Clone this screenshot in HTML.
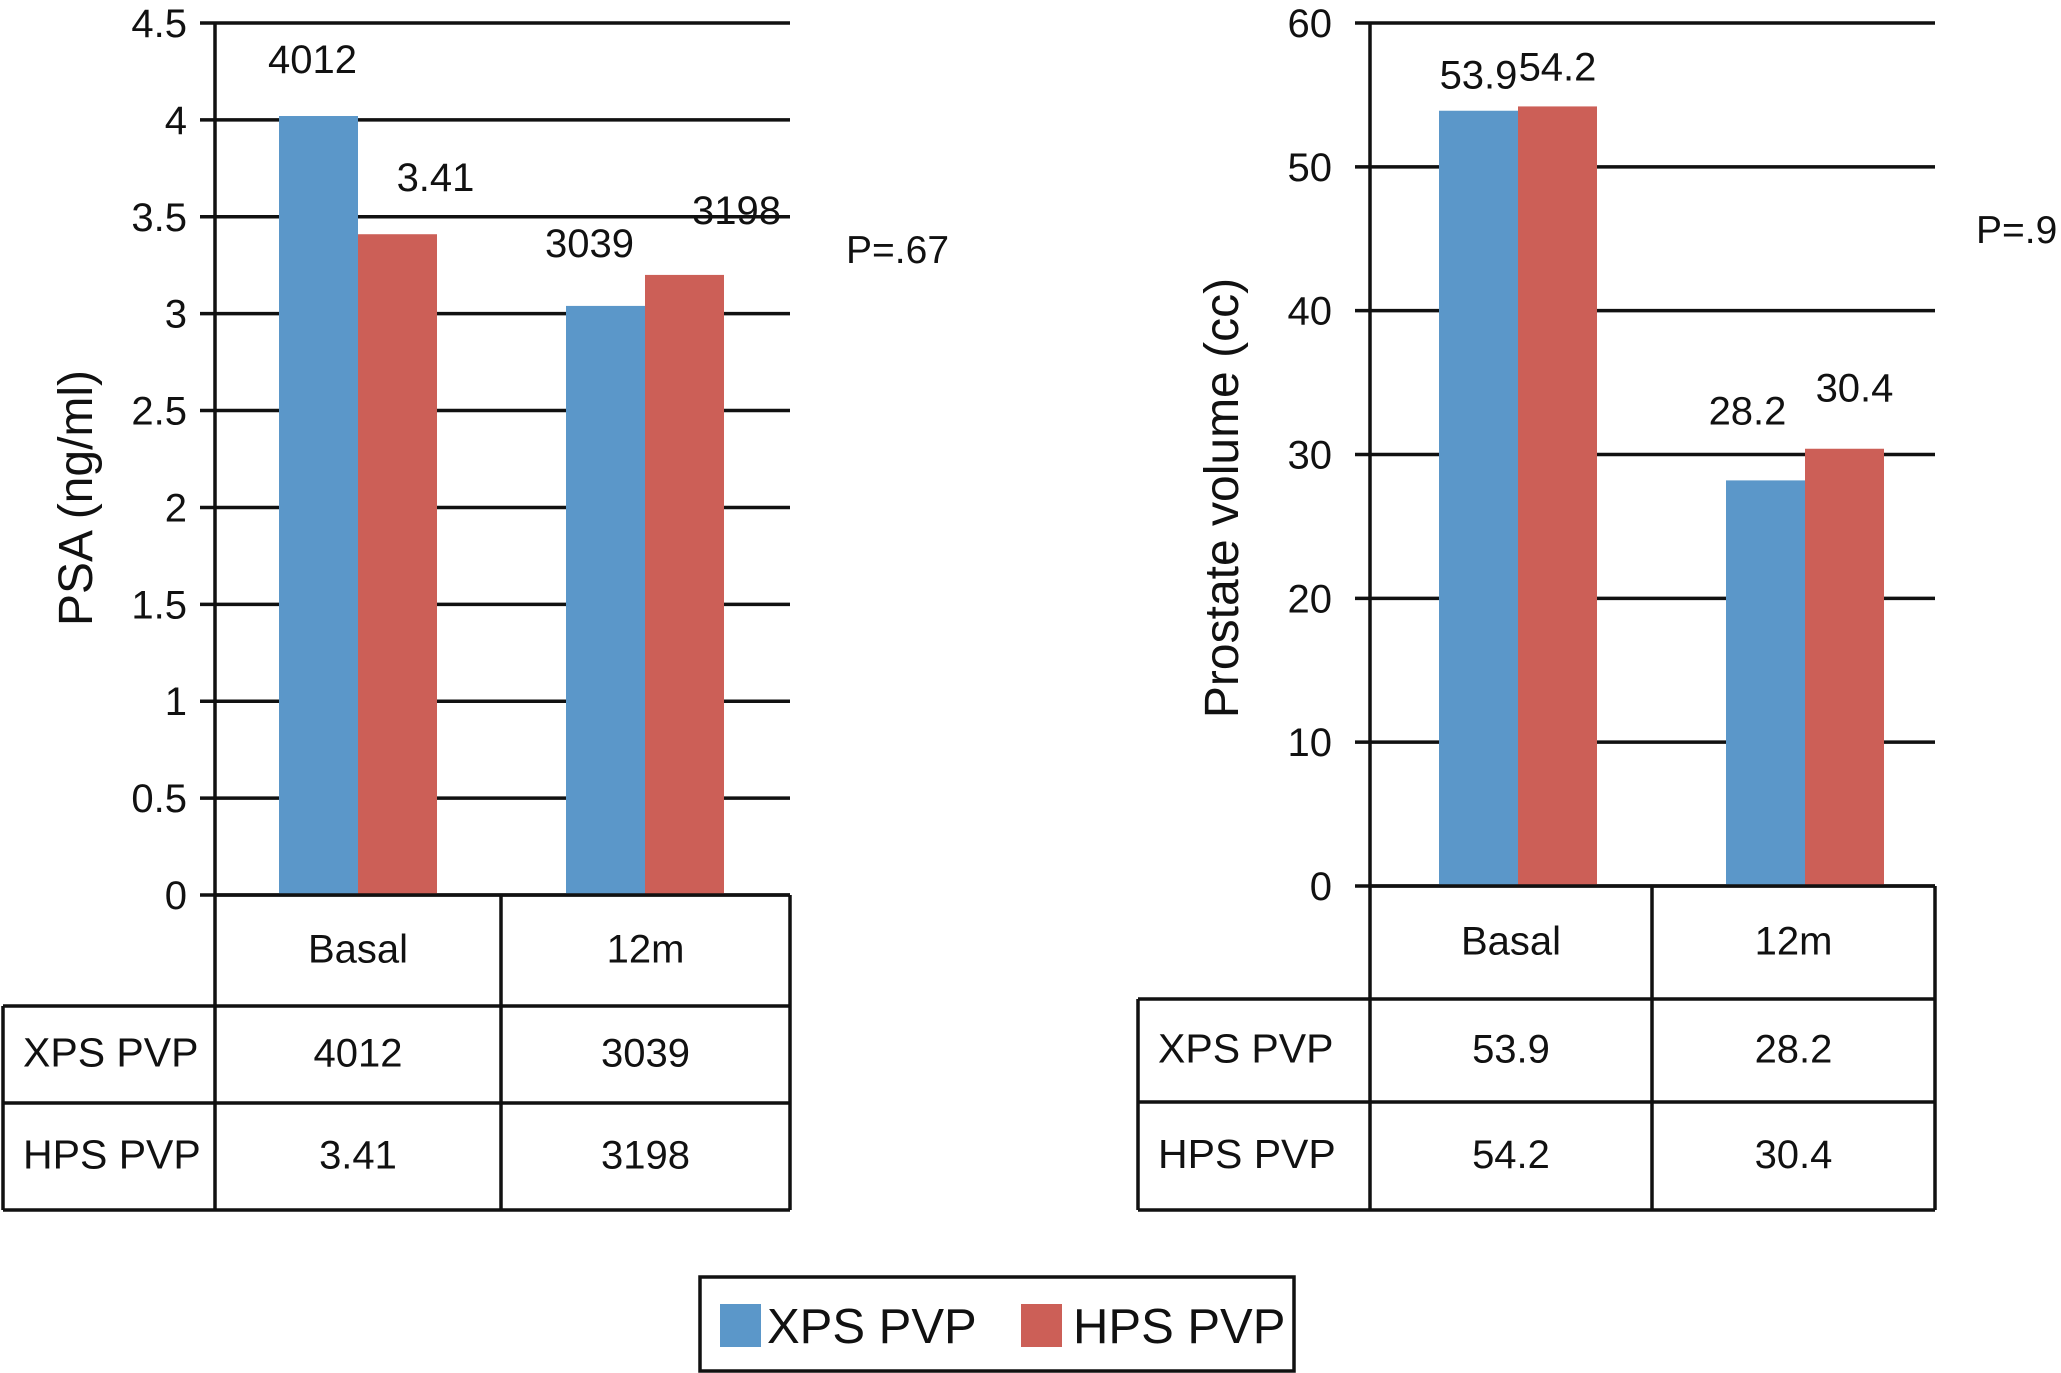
<!DOCTYPE html>
<html><head><meta charset="utf-8"><style>
html,body{margin:0;padding:0;background:#fff;}
svg{display:block;font-family:"Liberation Sans",sans-serif;}
</style></head><body>
<svg id="root" width="2061" height="1373" viewBox="0 0 2061 1373"></svg>
<script>
const categories = ["Basal", "12m"];
const seriesNames = ["XPS PVP", "HPS PVP"];
const psaXps = [4.02, 3.04];
const psaHps = [3.41, 3.20];
const psaXpsLabels = ["4012", "3039"];
const psaHpsLabels = ["3.41", "3198"];
const psaTicks = [0, 0.5, 1, 1.5, 2, 2.5, 3, 3.5, 4, 4.5];
const psaTickLabels = ["0", "0.5", "1", "1.5", "2", "2.5", "3", "3.5", "4", "4.5"];
const volXps = [53.9, 28.2];
const volHps = [54.2, 30.4];
const volXpsLabels = ["53.9", "28.2"];
const volHpsLabels = ["54.2", "30.4"];
const volTicks = [0, 10, 20, 30, 40, 50, 60];
const volTickLabels = ["0", "10", "20", "30", "40", "50", "60"];

const NS = "http://www.w3.org/2000/svg";
const root = document.getElementById("root");
const BLUE = "#5b97c9", RED = "#cc5f57";
function mk(tag, attrs, parent, text) {
  const e = document.createElementNS(NS, tag);
  for (const k in attrs) e.setAttribute(k, attrs[k]);
  if (text !== undefined) e.textContent = text;
  (parent || root).appendChild(e);
  return e;
}

function drawChart(cfg) {
  const g = mk("g", {});
  
  
  const yS = v => cfg.y0 - (v - cfg.min) / (cfg.max - cfg.min) * (cfg.y0 - cfg.yTop);
  const barW = cfg.barW;
  const barX = (i, s) => cfg.centers[i] - barW + s * barW;
  cfg.ticks.forEach((t, i) => {
    const y = yS(t);
    const l = mk("line", {x1: cfg.axisX - 15, x2: cfg.xRight, y1: y, y2: y, stroke: "#111", "stroke-width": 3.5}, g);
    
    
    const tl = mk("text", {x: cfg.tickRight, y: y + 14, "font-size": cfg.tickFont, "text-anchor": "end", fill: "#111"}, g, cfg.tickLabels[i]);
    
    
  });
  const sets = [[cfg.xps, BLUE, cfg.xpsLabels], [cfg.hps, RED, cfg.hpsLabels]];
  sets.forEach((set, s) => {
    set[0].forEach((v, i) => {
      const x = barX(i, s), y = yS(v);
      const r = mk("rect", {x: x, y: y, width: barW, height: cfg.y0 - y, fill: set[1]}, g);
      
      
      const off = cfg.labelOff[s][i];
      const t = mk("text", {x: x + barW / 2 + cfg.labelDx[s][i], y: y - off, "font-size": 40, "text-anchor": "middle", fill: "#111"}, g, set[2][i]);
      
      
    });
  });
  const [r0, r1, r2, r3] = cfg.rows;
  const ax = mk("line", {x1: cfg.axisX, x2: cfg.axisX, y1: cfg.yTop, y2: r3, stroke: "#111", "stroke-width": 3.5}, g);
  
  
  const yt = mk("text", {x: cfg.titleX, y: cfg.titleY, "font-size": 48, "text-anchor": "middle", fill: "#111", transform: "rotate(-90 " + cfg.titleX + " " + cfg.titleY + ")"}, g, cfg.title);
  
  
  const tg = mk("g", {stroke: "#111", "stroke-width": 3.5, fill: "none"}, g);
  
  
  mk("line", {x1: cfg.axisX, x2: cfg.xRight, y1: r0, y2: r0}, tg);
  mk("line", {x1: cfg.tableLeft, x2: cfg.xRight, y1: r1, y2: r1}, tg);
  mk("line", {x1: cfg.tableLeft, x2: cfg.xRight, y1: r2, y2: r2}, tg);
  mk("line", {x1: cfg.tableLeft, x2: cfg.xRight, y1: r3, y2: r3}, tg);
  mk("line", {x1: cfg.tableLeft, x2: cfg.tableLeft, y1: r1, y2: r3}, tg);
  mk("line", {x1: cfg.midX, x2: cfg.midX, y1: r0, y2: r3}, tg);
  mk("line", {x1: cfg.xRight, x2: cfg.xRight, y1: r0, y2: r3}, tg);
  const colC = [(cfg.axisX + cfg.midX) / 2, (cfg.midX + cfg.xRight) / 2];
  const b0 = (r0 + r1) / 2 + 12, b1 = (r1 + r2) / 2 + 12, b2 = (r2 + r3) / 2 + 12;
  categories.forEach((c, i) => {
    const t = mk("text", {x: colC[i], y: b0, "font-size": 40, "text-anchor": "middle", fill: "#111"}, g, c);
    
    
    const a = mk("text", {x: colC[i], y: b1, "font-size": 40, "text-anchor": "middle", fill: "#111"}, g, cfg.xpsLabels[i]);
    
    
    const b = mk("text", {x: colC[i], y: b2, "font-size": 40, "text-anchor": "middle", fill: "#111"}, g, cfg.hpsLabels[i]);
    
    
  });
  seriesNames.forEach((n, s) => {
    const t = mk("text", {x: cfg.tableLeft + 20, y: (s ? b2 : b1), "font-size": 41, fill: "#111"}, g, n);
    
    
  });
  const p = mk("text", {x: cfg.pX, y: cfg.pY, "font-size": 39, fill: "#111"}, g, cfg.pText);
  
  
}

drawChart({name: "psa-chart", min: 0, max: 4.5, y0: 895, yTop: 23, axisX: 215, xRight: 790, barW: 79,
  centers: [358, 645],
  ticks: psaTicks, tickLabels: psaTickLabels, tickRight: 187, tickFont: 40,
  xps: psaXps, hps: psaHps, xpsLabels: psaXpsLabels, hpsLabels: psaHpsLabels,
  labelOff: [[43, 49], [43, 51]], labelDx: [[-6, -16], [38, 52]],
  title: "PSA (ng/ml)", titleX: 92, titleY: 498,
  rows: [895, 1006, 1103, 1210], tableLeft: 3, midX: 501, pX: 846, pY: 263, pText: "P=.67"});

drawChart({name: "volume-chart", min: 0, max: 60, y0: 886, yTop: 23, axisX: 1370, xRight: 1935, barW: 79,
  centers: [1518, 1805],
  ticks: volTicks, tickLabels: volTickLabels, tickRight: 1332, tickFont: 40,
  xps: volXps, hps: volHps, xpsLabels: volXpsLabels, hpsLabels: volHpsLabels,
  labelOff: [[22, 56], [26, 47]], labelDx: [[0, -18], [0, 10]],
  title: "Prostate volume (cc)", titleX: 1238, titleY: 498,
  rows: [886, 999, 1102, 1210], tableLeft: 1138, midX: 1652, pX: 1976, pY: 243, pText: "P=.9"});

const lg = mk("g", {});


mk("rect", {x: 700, y: 1277, width: 594, height: 94, fill: "none", stroke: "#111", "stroke-width": 3.5}, lg);
[[720, BLUE, 767, "XPS PVP"], [1021, RED, 1073, "HPS PVP"]].forEach(e => {
  const it = mk("g", {}, lg);
  
  
  mk("rect", {x: e[0], y: 1304, width: 41, height: 43, fill: e[1]}, it);
  mk("text", {x: e[2], y: 1343, "font-size": 49, fill: "#111"}, it, e[3]);
});
</script>
</body></html>
